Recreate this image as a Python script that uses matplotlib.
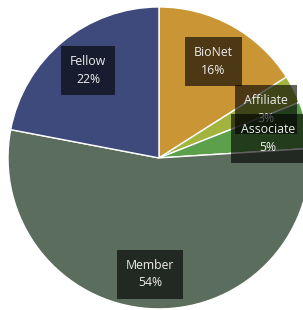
import matplotlib
matplotlib.use("Agg")
import matplotlib.pyplot as plt

labels = ["BioNet", "Affiliate", "Associate", "Member", "Fellow"]
values = [16, 3, 5, 54, 22]
colors = ["#C99535", "#A3B43E", "#5DA04B", "#5B6D5C", "#3D4A7B"]
label_pos = [(0.36, 0.64), (0.71, 0.32), (0.72, 0.13), (-0.06, -0.77), (-0.47, 0.58)]

fig = plt.figure(figsize=(3.03, 3.10), dpi=100)
ax = fig.add_axes([0, 0, 1, 1])
ax.pie(values, colors=colors, startangle=90, counterclock=False, radius=1.0,
       wedgeprops=dict(edgecolor="white", linewidth=1.0))
ax.set_xlim(-1.053, 0.954)
ax.set_ylim(-1.007, 1.046)
ax.set_aspect("equal")
ax.axis("off")

for lab, v, (x, y) in zip(labels, values, label_pos):
    ax.text(x, y, f"{lab}\n{v}%", ha="center", va="center", fontsize=8.8,
            family="Open Sans", color="#EDEDED", linespacing=1.45,
            bbox=dict(boxstyle="square,pad=0.75", facecolor="black", alpha=0.62,
                      edgecolor="none"))

fig.savefig("out.png", dpi=100)
